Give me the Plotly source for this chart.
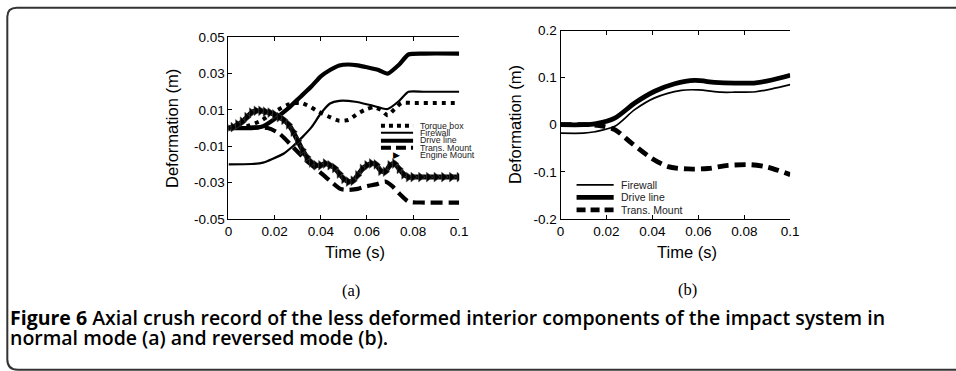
import plotly.graph_objects as go

# All positions below are given in picture pixels (956 x 371).  The photographed page
# maps figure pixels to picture pixels as  x' = SX*x + OX,  y' = SY*y + OY,
# so positions are converted back through that mapping.
SX, OX = 0.9835, 4.2
SY, OY = 0.9587, 7.5
W, H = 966, 379

# ---------------- data: panel (a) normal mode ----------------
a_drive_t = [0, 0.01, 0.015, 0.02, 0.026, 0.031, 0.036, 0.04, 0.044, 0.048, 0.052, 0.056, 0.06, 0.065, 0.069, 0.074, 0.078, 0.085, 0.1]
a_drive_v = [0, 0, 0.001, 0.005, 0.011, 0.017, 0.023, 0.0285, 0.032, 0.0345, 0.035, 0.0345, 0.0335, 0.032, 0.03, 0.035, 0.0405, 0.041, 0.041]

a_fire_t = [0, 0.01, 0.015, 0.019, 0.024, 0.028, 0.032, 0.036, 0.04, 0.044, 0.048, 0.055, 0.062, 0.069, 0.074, 0.078, 0.085, 0.1]
a_fire_v = [-0.02, -0.0198, -0.019, -0.017, -0.014, -0.0099, -0.005, 0.0005, 0.008, 0.0135, 0.015, 0.0145, 0.0125, 0.0105, 0.015, 0.02, 0.02, 0.02]

a_torque_t = [0, 0.008, 0.014, 0.02, 0.026, 0.031, 0.035, 0.039, 0.044, 0.048, 0.052, 0.056, 0.06, 0.063, 0.066, 0.069, 0.072, 0.075, 0.08, 0.1]
a_torque_v = [0, 0.001, 0.004, 0.009, 0.013, 0.014, 0.012, 0.009, 0.006, 0.004, 0.0045, 0.008, 0.0105, 0.0115, 0.01, 0.007, 0.0105, 0.0138, 0.0138, 0.0138]

a_trans_t = [0, 0.017, 0.022, 0.028, 0.033, 0.039, 0.044, 0.0485, 0.052, 0.056, 0.06, 0.064, 0.068, 0.071, 0.074, 0.078, 0.085, 0.1]
a_trans_v = [0, 0, -0.003, -0.0105, -0.017, -0.0235, -0.029, -0.0335, -0.034, -0.0335, -0.032, -0.031, -0.0295, -0.032, -0.036, -0.0405, -0.041, -0.041]

a_engine_t = [0, 0.002, 0.004, 0.006, 0.008, 0.010, 0.012, 0.014, 0.016, 0.018, 0.020,
              0.022, 0.024, 0.026, 0.028, 0.030, 0.032, 0.034, 0.036, 0.038, 0.040,
              0.042, 0.044, 0.046, 0.048, 0.050, 0.052, 0.054, 0.056, 0.058, 0.060,
              0.062, 0.064, 0.066, 0.068, 0.070, 0.072, 0.074, 0.076, 0.078, 0.080,
              0.0833, 0.0867, 0.090, 0.0933, 0.0967, 0.100]
a_engine_v = [0, 0.0005, 0.002, 0.0035, 0.006, 0.0085, 0.0095, 0.0095, 0.009, 0.0085, 0.0075,
              0.006, 0.0045, 0.002, -0.002, -0.007, -0.012, -0.016, -0.019, -0.0205, -0.0205,
              -0.0195, -0.0205, -0.022, -0.025, -0.028, -0.0295, -0.029, -0.026, -0.0225, -0.0205,
              -0.0195, -0.02, -0.0235, -0.024, -0.0205, -0.0195, -0.0225, -0.0255, -0.027, -0.027,
              -0.027, -0.027, -0.027, -0.027, -0.027, -0.027]

# ---------------- data: panel (b) reversed mode ----------------
b_fire_t = [0, 0.01, 0.015, 0.0236, 0.0323, 0.041, 0.0526, 0.0599, 0.07, 0.0758, 0.085, 0.092, 0.1]
b_fire_v = [-0.018, -0.018, -0.015, -0.0035, 0.032, 0.057, 0.073, 0.074, 0.069, 0.069, 0.07, 0.076, 0.085]

b_drive_t = [0, 0.01, 0.015, 0.0236, 0.0323, 0.041, 0.0497, 0.0584, 0.0671, 0.0758, 0.085, 0.092, 0.1]
b_drive_v = [0, 0, 0.002, 0.014, 0.046, 0.071, 0.087, 0.094, 0.09, 0.0885, 0.089, 0.095, 0.105]

b_trans_t = [0, 0.012, 0.017, 0.0236, 0.0309, 0.0396, 0.0468, 0.0555, 0.0642, 0.0729, 0.083, 0.09, 0.1]
b_trans_v = [0, 0, -0.002, -0.0106, -0.039, -0.071, -0.089, -0.094, -0.093, -0.0865, -0.085, -0.09, -0.106]

# ---------------- tick labels ----------------
x_ticks = [0, 0.02, 0.04, 0.06, 0.08, 0.1]
x_ticktext = ["0", "0.02", "0.04", "0.06", "0.08", "0.1"]
a_yticks = [-0.05, -0.03, -0.01, 0.01, 0.03, 0.05]
a_yticktext = ["-0.05", "-0.03", "-0.01", "0.01", "0.03", "0.05"]
b_yticks = [-0.2, -0.1, 0, 0.1, 0.2]
b_yticktext = ["-0.2", "-0.1", "0", "0.1", "0.2"]

a_legend = ["Torque box", "Firewall", "Drive line", "Trans. Mount", "Engine Mount"]
b_legend = ["Firewall", "Drive line", "Trans. Mount"]

caption_head = "Figure 6"
caption_rest = "Axial crush record of the less deformed interior components of the impact system in"
caption_line2 = "normal mode (a) and reversed mode (b)."


def px(x):
    return ((x - OX) / SX) / W


def py(y):
    return 1 - ((y - OY) / SY) / H


fig = go.Figure()

# panel (a)
fig.add_trace(go.Scatter(x=a_torque_t, y=a_torque_v, mode="lines", xaxis="x", yaxis="y",
                         line=dict(color="black", width=4, dash="4px,5px", shape="spline", smoothing=0.6)))
fig.add_trace(go.Scatter(x=a_fire_t, y=a_fire_v, mode="lines", xaxis="x", yaxis="y",
                         line=dict(color="black", width=2.2, shape="spline", smoothing=0.6)))
fig.add_trace(go.Scatter(x=a_drive_t, y=a_drive_v, mode="lines", xaxis="x", yaxis="y",
                         line=dict(color="black", width=4.2, shape="spline", smoothing=0.6)))
fig.add_trace(go.Scatter(x=a_trans_t, y=a_trans_v, mode="lines", xaxis="x", yaxis="y",
                         line=dict(color="black", width=4.2, dash="12px,6px", shape="spline", smoothing=0.6)))
fig.add_trace(go.Scatter(x=a_engine_t, y=a_engine_v, mode="lines+markers", xaxis="x", yaxis="y",
                         line=dict(color="black", width=5, shape="spline", smoothing=0.6),
                         marker=dict(symbol="triangle-right", size=8.5, color="black",
                                     line=dict(color="#555", width=0.5))))

# panel (b)
fig.add_trace(go.Scatter(x=b_fire_t, y=b_fire_v, mode="lines", xaxis="x2", yaxis="y2",
                         line=dict(color="black", width=1.7, shape="spline", smoothing=0.8)))
fig.add_trace(go.Scatter(x=b_drive_t, y=b_drive_v, mode="lines", xaxis="x2", yaxis="y2",
                         line=dict(color="black", width=4.8, shape="spline", smoothing=0.8)))
fig.add_trace(go.Scatter(x=b_trans_t, y=b_trans_v, mode="lines", xaxis="x2", yaxis="y2",
                         line=dict(color="black", width=4.8, dash="11px,6px", shape="spline", smoothing=0.8)))

tickfont = dict(family="Liberation Sans, Arial, sans-serif", size=13.5, color="black")
xcommon = dict(range=[0, 0.1], tickvals=x_ticks, ticktext=x_ticktext, ticks="inside", ticklen=4,
               showline=True, linecolor="black", linewidth=1, mirror="ticks", showgrid=False,
               zeroline=False, tickfont=tickfont, tickcolor="black")
ycommon = dict(ticks="inside", ticklen=4, showline=True, linecolor="black", linewidth=1,
               showgrid=False, zeroline=False, tickfont=tickfont, tickcolor="black")

fig.update_layout(
    width=W, height=H, margin=dict(l=0, r=0, t=0, b=0),
    paper_bgcolor="white", plot_bgcolor="rgba(0,0,0,0)", showlegend=False,
    xaxis=dict(domain=[px(228), px(458)], anchor="y", **xcommon),
    yaxis=dict(domain=[py(219), py(37.7)], anchor="x", range=[-0.05, 0.05],
               tickvals=a_yticks, ticktext=a_yticktext, **ycommon),
    xaxis2=dict(domain=[px(559), px(788)], anchor="y2", **xcommon),
    yaxis2=dict(domain=[py(219), py(31)], anchor="x2", range=[-0.2, 0.2],
                tickvals=b_yticks, ticktext=b_yticktext, **ycommon),
)

shapes = []
annotations = []

# outer frame (rounded left corners, open to the right)
top_y = 8.2
frame = (f"M {px(980)},{py(top_y)} L {px(17)},{py(top_y)} Q {px(7.5)},{py(top_y)} {px(7.5)},{py(top_y + 9)} "
         f"L {px(7.5)},{py(359)} Q {px(7.5)},{py(369.5)} {px(18)},{py(369.5)} L {px(980)},{py(369.5)}")
shapes.append(dict(type="path", xref="paper", yref="paper", path=frame,
                   line=dict(color="#333", width=2)))

# legend (a)
leg_a_y = [126, 133, 141, 148]
leg_a_styles = [dict(width=4, dash="4px,4px"), dict(width=2.2), dict(width=4), dict(width=4, dash="10px,5px")]
for yy, st in zip(leg_a_y, leg_a_styles):
    shapes.append(dict(type="line", xref="paper", yref="paper", x0=px(380), x1=px(412), y0=py(yy), y1=py(yy),
                       line=dict(color="black", **st)))
annotations.append(dict(x=px(395), y=py(155.5), xref="paper", yref="paper", text="▶", showarrow=False,
                        xanchor="center", yanchor="middle",
                        font=dict(size=9, color="black", family="DejaVu Sans")))
for i, name in enumerate(a_legend):
    annotations.append(dict(x=px(417), y=py(126 + i * 7.3), xref="paper", yref="paper", text=name,
                            showarrow=False, xanchor="left", yanchor="middle",
                            font=dict(size=8.8, color="#222", family="Liberation Sans, Arial")))

# legend (b)
leg_b_y = [185, 197.5, 210]
leg_b_styles = [dict(width=1.7), dict(width=4.8), dict(width=4.8, dash="9px,5px")]
for yy, st, name in zip(leg_b_y, leg_b_styles, b_legend):
    shapes.append(dict(type="line", xref="paper", yref="paper", x0=px(575), x1=px(612), y0=py(yy), y1=py(yy),
                       line=dict(color="black", **st)))
    annotations.append(dict(x=px(617), y=py(yy), xref="paper", yref="paper", text=name,
                            showarrow=False, xanchor="left", yanchor="middle",
                            font=dict(size=10.5, color="#222", family="Liberation Sans, Arial")))

title_font = dict(family="Liberation Sans, Arial, sans-serif", size=16.5, color="black")
serif = dict(family="Liberation Serif, Times New Roman, serif", size=16.5, color="black")
cap_font = dict(family="Open Sans, sans-serif", size=19.5, color="black", weight=600)


def label(x, y, text, font, angle=0):
    return dict(x=px(x), y=py(y), xref="paper", yref="paper", text=text, textangle=angle,
                xanchor="center", yanchor="middle", showarrow=False, font=font)


annotations += [
    label(171, 129, "Deformation (m)", title_font, -90),
    label(513, 125, "Deformation (m)", title_font, -90),
    label(354, 252, "Time (s)", title_font),
    label(685, 252, "Time (s)", title_font),
    label(350, 290, "(a)", serif),
    label(686, 289, "(b)", serif),
    dict(x=px(8), y=py(317), xref="paper", yref="paper", xanchor="left", yanchor="middle",
         text="<b>" + caption_head + "</b> " + caption_rest, showarrow=False, font=cap_font),
    dict(x=px(8), y=py(337), xref="paper", yref="paper", xanchor="left", yanchor="middle",
         text=caption_line2, showarrow=False, font=cap_font),
]

fig.update_layout(shapes=shapes, annotations=annotations)
fig.write_html("out.html")
